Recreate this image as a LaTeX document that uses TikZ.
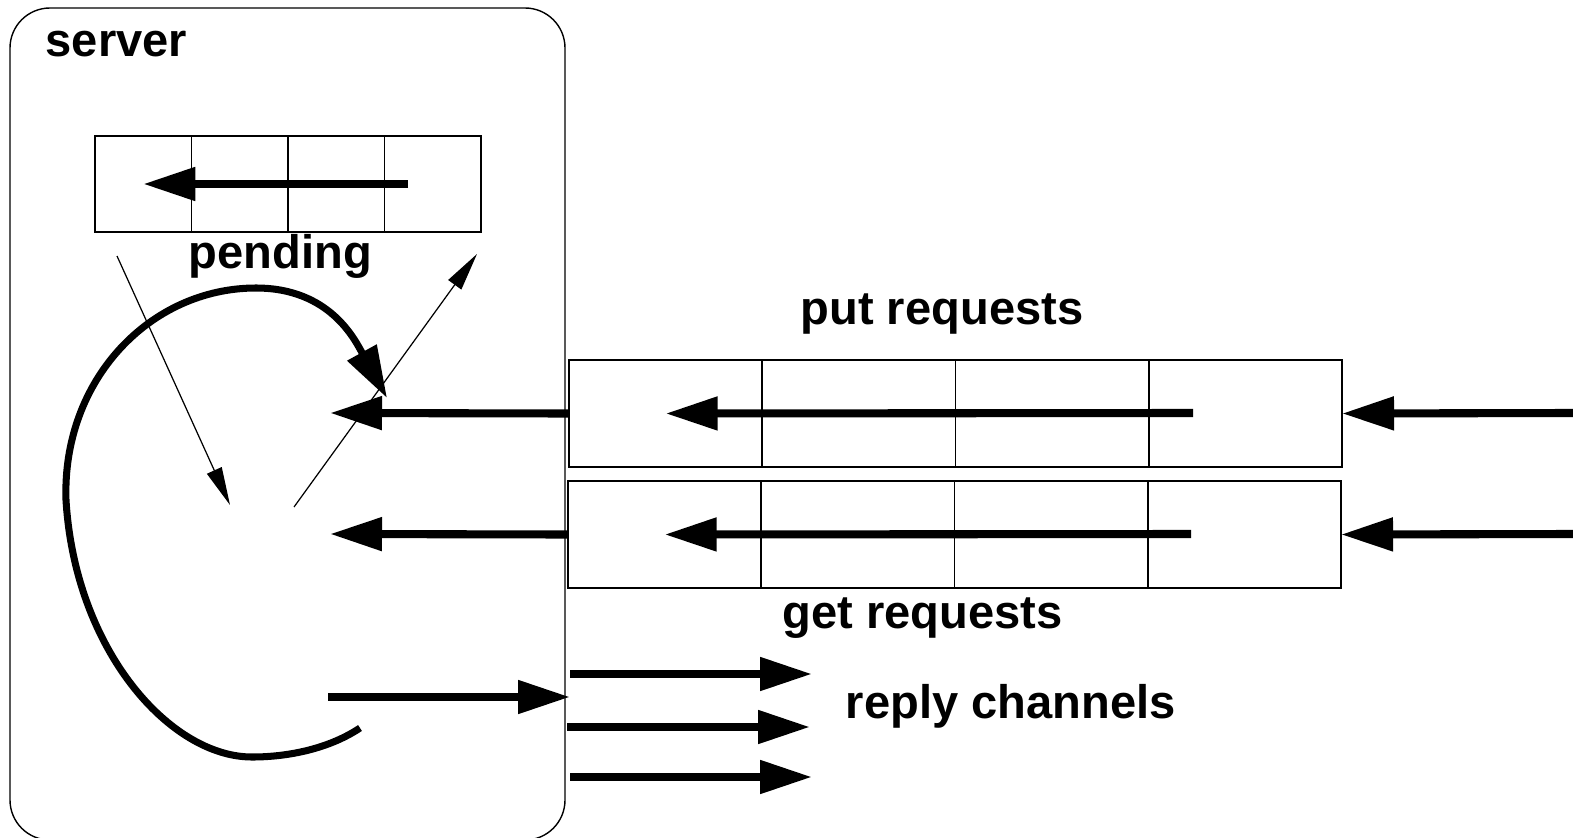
\documentclass[tikz,border=0pt]{standalone}
\usepackage{fontspec}
\setmainfont{Liberation Sans}
\usetikzlibrary{arrows.meta}

\begin{document}
\begin{tikzpicture}[x=0.1mm, y=-0.1mm,
    frame/.style={rectangle, draw, line width=0.4pt, rounded corners=0.4cm, inner sep=0pt},
    qcell/.style={rectangle, draw, line width=0.45pt, inner sep=0pt, outer sep=0pt},
    lbl/.style={font=\bfseries\fontsize{13.4}{16}\selectfont, inner sep=0pt, anchor=base west},
    fat/.style={-{Triangle[length=5.2mm, width=3.2mm]}, line width=2.3pt},
    slim/.style={-{Triangle[length=3.8mm, width=1.6mm]}, line width=0.35pt}]
    \clip (0,0) rectangle (1573,837);

    % Nodes
    \node[frame, minimum width=5.55cm, minimum height=8.32cm] (srv) at (287.5,424) {};
    \node[lbl] (srvlbl) at (45,57) {server};
    \foreach \i in {1,...,4}
        \node[qcell, minimum width=0.965cm, minimum height=0.96cm] (pend\i) at ({95+96.5*(\i-0.5)},184) {};
    \node[lbl] (pendlbl) at (188,269) {pending};
    \foreach \i in {1,...,4}
        \node[qcell, minimum width=1.9325cm, minimum height=1.07cm] (put\i) at ({569+193.25*(\i-0.5)},413.5) {};
    \foreach \i in {1,...,4}
        \node[qcell, minimum width=1.9325cm, minimum height=1.07cm] (get\i) at ({568+193.25*(\i-0.5)},534.5) {};
    \node[lbl] (putlbl) at (800,325) {put requests};
    \node[lbl] (getlbl) at (782,628) {get requests};
    \node[lbl] (replylbl) at (845,718) {reply channels};

    % Free ends
    \coordinate (pendtail) at (408,184);
    \coordinate (deqtop) at (117,256);
    \coordinate (deqbot) at (230,505);
    \coordinate (enqbot) at (294,507);
    \coordinate (enqtop) at (477,254);
    \coordinate (loopstart) at (360,728);
    \coordinate (looptip) at (387,398);
    \coordinate (putin) at (330,413);
    \coordinate (puttail) at (1193,413);
    \coordinate (putsrc) at (1573,413);
    \coordinate (getin) at (330,534);
    \coordinate (gettail) at (1191,534);
    \coordinate (getsrc) at (1573,534);
    \coordinate (srvouts) at (328,697);
    \coordinate (srvoute) at (570,697);
    \coordinate (reply1s) at (570,674);
    \coordinate (reply1e) at (812,674);
    \coordinate (reply2s) at (567,727);
    \coordinate (reply2e) at (810,727);
    \coordinate (reply3s) at (570,777);
    \coordinate (reply3e) at (812,777);

    % Arrows
    \draw[fat] (pendtail) -- (pend1.center);
    \draw[slim] (deqtop) -- (deqbot);
    \draw[slim] (enqbot) -- (enqtop);
    \draw[fat, line width=2pt] (loopstart) .. controls (330,748) and (290,757) .. (252,757)
        .. controls (170,757) and (75,650) .. (66,500)
        .. controls (62,380) and (150,288) .. (256,288)
        .. controls (330,288) and (355,340) .. (looptip);
    \draw[fat] (put1.west) -- (putin);
    \draw[fat] (puttail) -- (put1.center);
    \draw[fat] (putsrc) -- (put4.east);
    \draw[fat] (get1.west) -- (getin);
    \draw[fat] (gettail) -- (get1.center);
    \draw[fat] (getsrc) -- (get4.east);
    \draw[fat] (srvouts) -- (srvoute);
    \draw[fat] (reply1s) -- (reply1e);
    \draw[fat] (reply2s) -- (reply2e);
    \draw[fat] (reply3s) -- (reply3e);

\end{tikzpicture}
\end{document}
